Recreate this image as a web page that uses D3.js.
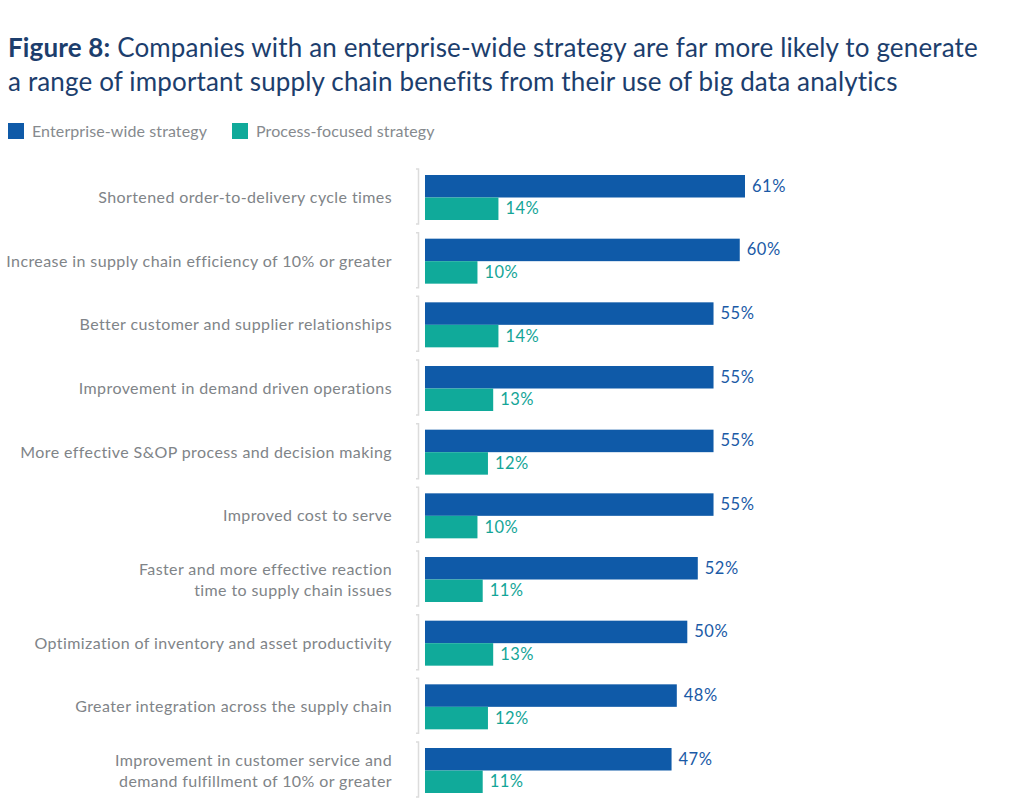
<!DOCTYPE html>
<html>
<head>
<meta charset="utf-8">
<script src="https://cdn.jsdelivr.net/npm/d3@7"></script>
<style>
  html, body { margin: 0; padding: 0; background: #fff; }
  svg { display: block; }
  text { font-family: Lato, "Open Sans", sans-serif; }
</style>
</head>
<body>
<svg id="chart" width="1024" height="798"></svg>
<script>
const categories = [
  ["Shortened order-to-delivery cycle times"],
  ["Increase in supply chain efficiency of 10% or greater"],
  ["Better customer and supplier relationships"],
  ["Improvement in demand driven operations"],
  ["More effective S&OP process and decision making"],
  ["Improved cost to serve"],
  ["Faster and more effective reaction", "time to supply chain issues"],
  ["Optimization of inventory and asset productivity"],
  ["Greater integration across the supply chain"],
  ["Improvement in customer service and", "demand fulfillment of 10% or greater"]
];
const enterprise = [61, 60, 55, 55, 55, 55, 52, 50, 48, 47];
const processFocused = [14, 10, 14, 13, 12, 10, 11, 13, 12, 11];
const seriesNames = ["Enterprise-wide strategy", "Process-focused strategy"];
const titleBold = "Figure 8:";
const titleLine1 = " Companies with an enterprise-wide strategy are far more likely to generate";
const titleLine2 = "a range of important supply chain benefits from their use of big data analytics";

const colors = ["#0f5aa8", "#10aa9a"];
const labelColors = ["#1a5aa6", "#14a597"];

const svg = d3.select("#chart");
const keys = categories.map((c, i) => i);

const x = d3.scaleLinear().domain([0, 61]).range([425, 745]);
const y = d3.scalePoint().domain(keys).range([197.5, 770.5]);
const inner = d3.scaleBand().domain([0, 1]).range([-22.5, 22.5]).padding(0);

// Title
const title = svg.append("text").attr("x", 8).attr("y", 57)
  .attr("fill", "#1c3e6d").attr("font-size", 26).attr("letter-spacing", 0.15);
title.append("tspan").attr("font-weight", "bold").text(titleBold);
title.append("tspan").text(titleLine1);
svg.append("text").attr("x", 8).attr("y", 91)
  .attr("fill", "#1c3e6d").attr("font-size", 26).attr("letter-spacing", 0.15).text(titleLine2);

// Legend
const legendX = [8, 232];
seriesNames.forEach((name, i) => {
  svg.append("rect").attr("x", legendX[i]).attr("y", 123).attr("width", 16).attr("height", 16)
    .attr("fill", colors[i]);
  svg.append("text").attr("x", legendX[i] + 24).attr("y", 137)
    .attr("fill", "#868a8e").attr("font-size", 16).attr("letter-spacing", 0.1).text(name);
});

// Groups
const g = svg.append("g");
const groups = g.selectAll("g.grp").data(keys).join("g")
  .attr("class", "grp")
  .attr("transform", d => `translate(0,${y(d)})`);

// bracket
groups.append("path")
  .attr("d", "M416,-28.5 H418.5 V26.5 H416")
  .attr("fill", "none").attr("stroke", "#dcdcdc").attr("stroke-width", 1.5);

// category labels
groups.each(function(d) {
  const lines = categories[d];
  const t = d3.select(this).append("text")
    .attr("text-anchor", "end").attr("fill", "#808488").attr("font-size", 16)
    .attr("letter-spacing", 0.4);
  const lh = 21;
  lines.forEach((ln, j) => {
    t.append("tspan").attr("x", 392)
      .attr("y", (j - (lines.length - 1) / 2) * lh + 5.5)
      .text(ln);
  });
});

const vals = [enterprise, processFocused];
[0, 1].forEach(s => {
  groups.append("rect")
    .attr("x", x(0))
    .attr("y", inner(s))
    .attr("width", d => x(vals[s][d]) - x(0))
    .attr("height", inner.bandwidth())
    .attr("fill", colors[s]);
  groups.append("text")
    .attr("x", d => x(vals[s][d]) + 7)
    .attr("y", inner(s) + inner.bandwidth() / 2 + 5.5)
    .attr("fill", labelColors[s]).attr("font-size", 16.5).attr("letter-spacing", 0.5)
    .text(d => vals[s][d] + "%");
});
</script>
</body>
</html>
